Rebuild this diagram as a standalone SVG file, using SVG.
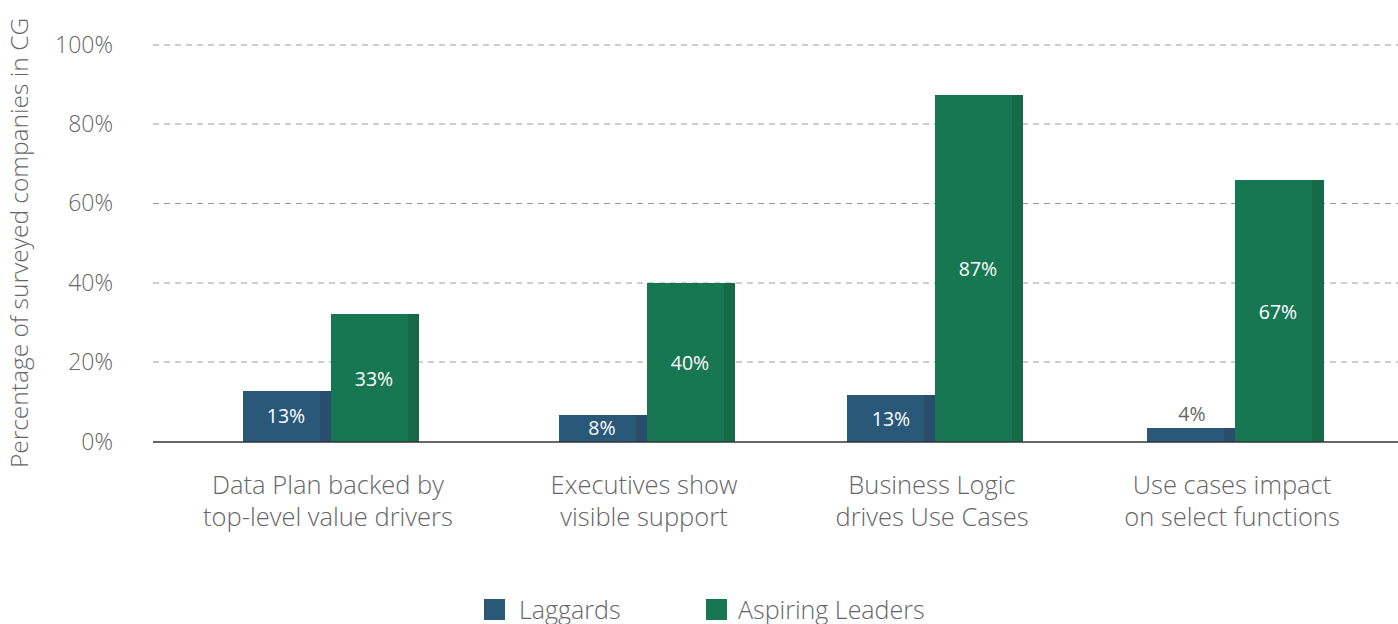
<svg xmlns="http://www.w3.org/2000/svg" width="1398" height="624" viewBox="0 0 1398 624">
<style>
text{font-family:"Open Sans","Noto Sans","Liberation Sans",sans-serif;}
.grid{stroke:#9a9a9a;stroke-width:1;stroke-dasharray:6 5;}
.tick{font-size:23px;fill:#666;text-anchor:end;font-weight:300;}
.cat{font-size:25.5px;fill:#666;text-anchor:middle;font-weight:300;}
.val{font-size:19.5px;fill:#fff;text-anchor:middle;}
.lag{fill:#2A5879;}
.lagd{fill:#2A4D6C;}
.asp{fill:#177752;}
.aspd{fill:#166A48;}
.leg{font-size:25px;fill:#666;font-weight:300;}
</style>
<g id="gridlines">
<line class="grid" x1="153" y1="45" x2="1398" y2="45"/>
<line class="grid" x1="153" y1="124" x2="1398" y2="124"/>
<line class="grid" x1="153" y1="203.5" x2="1398" y2="203.5"/>
<line class="grid" x1="153" y1="283" x2="1398" y2="283"/>
<line class="grid" x1="153" y1="362" x2="1398" y2="362"/>
</g>
<g id="y-axis">
<text class="tick" x="113" y="53">100%</text>
<text class="tick" x="113" y="132">80%</text>
<text class="tick" x="113" y="211">60%</text>
<text class="tick" x="113" y="291">40%</text>
<text class="tick" x="113" y="370">20%</text>
<text class="tick" x="113" y="450">0%</text>
<text x="28" y="243" transform="rotate(-90 28 243)" style="font-size:24.5px;fill:#666;text-anchor:middle;font-weight:300">Percentage of surveyed companies in CG</text>
</g>
<g id="group1">
<rect class="lag" x="243" y="391" width="88" height="51"/>
<rect class="lagd" x="320" y="391" width="11" height="51"/>
<rect class="asp" x="331" y="314" width="88" height="128"/>
<rect class="aspd" x="408" y="314" width="11" height="128"/>
<text class="val" x="286" y="423">13%</text>
<text class="val" x="374" y="386">33%</text>
<text class="cat" x="328" y="494">Data Plan backed by</text>
<text class="cat" x="328" y="526">top-level value drivers</text>
</g>
<g id="group2">
<rect class="lag" x="559" y="415" width="88" height="27"/>
<rect class="lagd" x="636" y="415" width="11" height="27"/>
<rect class="asp" x="647" y="283" width="88" height="159"/>
<rect class="aspd" x="724" y="283" width="11" height="159"/>
<text class="val" x="602" y="435">8%</text>
<text class="val" x="690" y="370">40%</text>
<text class="cat" x="644" y="494">Executives show</text>
<text class="cat" x="644" y="526">visible support</text>
</g>
<g id="group3">
<rect class="lag" x="847" y="395" width="88" height="47"/>
<rect class="lagd" x="924" y="395" width="11" height="47"/>
<rect class="asp" x="935" y="95" width="88" height="347"/>
<rect class="aspd" x="1012" y="95" width="11" height="347"/>
<text class="val" x="891" y="426">13%</text>
<text class="val" x="978" y="276">87%</text>
<text class="cat" x="932" y="494">Business Logic</text>
<text class="cat" x="932" y="526">drives Use Cases</text>
</g>
<g id="group4">
<rect class="lag" x="1147" y="428" width="88" height="14"/>
<rect class="lagd" x="1224" y="428" width="11" height="14"/>
<rect class="asp" x="1235" y="180" width="89" height="262"/>
<rect class="aspd" x="1312" y="180" width="12" height="262"/>
<text class="val" x="1192" y="421" style="fill:#666">4%</text>
<text class="val" x="1278" y="319">67%</text>
<text class="cat" x="1232" y="494">Use cases impact</text>
<text class="cat" x="1232" y="526">on select functions</text>
</g>
<g id="axis">
<line x1="153" y1="442" x2="1398" y2="442" stroke="#333" stroke-width="1.5"/>
</g>
<g id="legend">
<rect class="lag" x="484" y="599" width="21" height="21"/>
<text class="leg" x="519" y="619">Laggards</text>
<rect class="asp" x="706" y="599" width="21" height="21"/>
<text class="leg" x="738" y="619">Aspiring Leaders</text>
</g>
</svg>
